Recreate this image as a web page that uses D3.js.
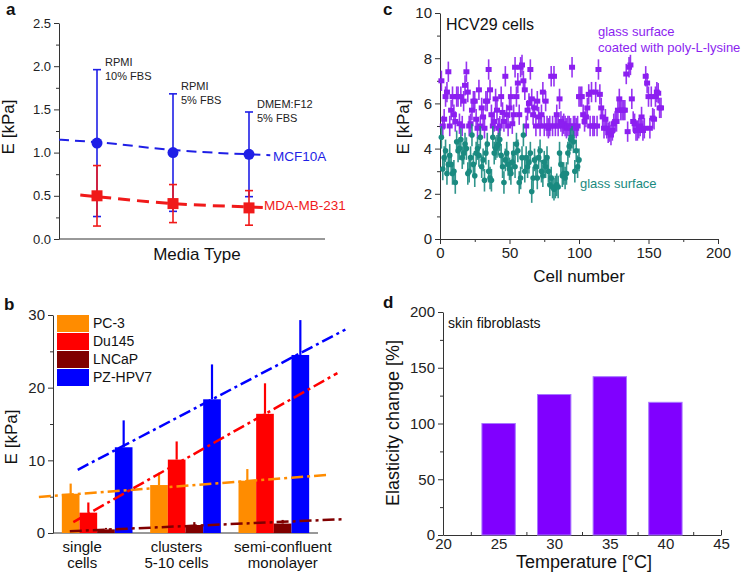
<!DOCTYPE html>
<html>
<head>
<meta charset="utf-8">
<script src="https://cdnjs.cloudflare.com/ajax/libs/d3/7.8.5/d3.min.js"></script>
<style>
  body { margin: 0; background: #fff; }
  svg { font-family: "Liberation Sans", Arial, sans-serif; }
  .axis path, .axis line { stroke: #333; }
  .axis text { fill: #222; }
</style>
</head>
<body>
<svg id="fig" width="742" height="588"></svg>
<script>
var FONT = '"Liberation Sans", Arial, sans-serif';

// ---- panel a : media type ----
var mediaPos = [0.5, 1.5, 2.5];
var mediaNotes = [["RPMI", "10% FBS"], ["RPMI", "5% FBS"], ["DMEM:F12", "5% FBS"]];
var mcfMean = [1.11, 1.00, 0.98];
var mcfHi = [1.96, 1.68, 1.47];
var mcfLo = [0.26, 0.32, 0.49];
var mdaMean = [0.50, 0.41, 0.36];
var mdaHi = [0.85, 0.63, 0.56];
var mdaLo = [0.15, 0.19, 0.16];
var mcfFitX = [0, 0.5, 1.5, 2.5, 2.78];
var mcfFitY = [1.15, 1.12, 1.03, 0.98, 0.97];
var mdaFitX = [0.28, 0.5, 1.5, 2.5, 2.78];
var mdaFitY = [0.51, 0.49, 0.41, 0.37, 0.36];

// ---- panel b : prostate cells ----
var bCats = ["single", "clusters", "semi"];
var bCatLines = [["single", "cells"], ["clusters", "5-10 cells"], ["semi-confluent", "monolayer"]];
var bSeries = ["PC-3", "Du145", "LNCaP", "PZ-HPV7"];
var bColors = ["#ff8c00", "#ff0000", "#800000", "#0000ff"];
var bMean = [
  [5.4, 6.6, 7.2],    // PC-3
  [2.8, 10.1, 16.4],  // Du145
  [0.5, 1.1, 1.3],    // LNCaP
  [11.8, 18.4, 24.5]  // PZ-HPV7
];
var bHi = [
  [6.8, 8.3, 8.8],
  [4.2, 12.6, 20.6],
  [0.7, 1.5, 1.8],
  [15.5, 23.2, 29.3]
];
var trendX0 = [-0.16, 0.23, 0.19, 0.28];
var trendY0 = [4.95, 1.5, 0.25, 8.7];
var trendX1 = [3.11, 3.22, 3.28, 3.31];
var trendY1 = [8.0, 22.0, 1.9, 28.0];

// ---- panel c : HCV29 cells ----
var polyE = [
  7.0, 5.0, 5.3, 6.3, 6.5, 7.4, 5.0, 5.7, 6.3, 5.5,
  5.2, 6.3, 6.3, 5.1, 6.3, 5.0, 6.1, 6.8, 7.4, 6.5,
  5.0, 5.1, 5.7, 6.1, 6.1, 5.3, 4.9, 6.6, 5.0, 5.8,
  5.4, 4.9, 6.1, 6.1, 7.5, 6.6, 5.5, 5.0, 5.2, 6.2,
  5.7, 4.9, 5.0, 6.3, 5.6, 5.2, 7.2, 5.5, 5.0, 5.8,
  6.3, 5.1, 5.5, 7.6, 6.3, 6.9, 5.5, 7.6, 7.7, 7.0,
  6.6, 5.0, 5.7, 6.0, 7.5, 6.2, 5.5, 5.8, 5.0, 6.1,
  5.4, 5.0, 5.5, 6.5, 5.0, 6.1, 5.0, 4.9, 5.0, 7.2,
  5.0, 7.2, 5.0, 5.5, 5.0, 6.2, 5.2, 5.0, 5.1, 5.0,
  4.9, 5.0, 5.0, 4.9, 7.6, 5.0, 5.0, 4.9, 5.0, 6.3,
  6.3, 6.3, 5.5, 5.2, 5.4, 5.8, 6.4, 5.0, 6.5, 5.0,
  5.0, 6.5, 5.0, 7.5, 6.4, 5.8, 5.4, 4.9, 5.3, 4.9,
  4.7, 4.75, 4.6, 4.8, 5.1, 5.2, 5.2, 5.7, 6.2, 5.7,
  5.7, 5.7, 5.7, 7.3, 4.75, 7.6, 7.7, 6.2, 5.2, 5.1,
  4.8, 4.8, 4.9, 5.0, 5.4, 4.8, 4.9, 7.2, 6.9, 6.3,
  4.9, 6.3, 5.35, 5.3, 6.3, 6.5, 6.45, 5.8, 5.8
];
var glassE = [
  4.5, 3.1, 3.6, 3.9, 2.9, 3.3, 3.7, 3.3, 2.9, 3.0,
  2.5, 4.3, 3.9, 4.0, 4.4, 3.6, 3.8, 4.2, 4.0, 2.9,
  3.0, 3.6, 4.6, 3.3, 2.8, 3.8, 4.0, 3.7, 4.5, 3.2,
  3.5, 2.6, 3.8, 4.2, 3.0, 2.7, 2.6, 4.5, 3.8, 4.0,
  4.1, 4.2, 4.4, 3.7, 3.2, 2.5, 3.5, 3.8, 3.3, 3.1,
  2.9, 3.4, 3.8, 3.2, 4.2, 3.9, 2.5, 2.7, 3.6, 4.6,
  3.0, 3.6, 3.2, 3.4, 3.8, 2.1, 2.7, 3.5, 3.2, 2.7,
  3.6, 3.9, 3.0, 2.8, 3.4, 3.2, 3.6, 3.0, 2.4, 2.7,
  2.3, 2.2, 2.3, 2.4, 2.3, 3.8, 3.3, 2.8, 2.9, 2.7,
  2.9, 3.8, 4.1, 4.4, 4.5, 4.3, 3.0, 3.9, 3.2, 3.5
];
var polyErr = 0.45;
var glassErr = 0.5;

// ---- panel d : skin fibroblasts ----
var temps = [25, 30, 35, 40];
var elastChange = [100, 126, 142, 119];

var svg = d3.select("#fig");
svg.append("rect").attr("width", 742).attr("height", 588).attr("fill", "#fff");

function leftAxis(x0, y, majors, minors, fmt, fs) {
  svg.append("g").attr("class", "axis").attr("transform", "translate(" + x0 + ",0)")
    .call(d3.axisLeft(y).tickValues(minors).tickSize(3).tickFormat(""))
    .select(".domain").remove();
  svg.append("g").attr("class", "axis").attr("transform", "translate(" + x0 + ",0)")
    .call(d3.axisLeft(y).tickValues(majors).tickSizeInner(5).tickSizeOuter(0).tickPadding(3).tickFormat(fmt))
    .attr("font-size", fs).attr("font-family", FONT);
}

function bottomAxis(y0, x, majors, minors, fs, inward) {
  var s = inward ? -5 : 5, sm = inward ? -3 : 3;
  svg.append("g").attr("class", "axis").attr("transform", "translate(0," + y0 + ")")
    .call(d3.axisBottom(x).tickValues(minors).tickSize(sm).tickFormat(""))
    .select(".domain").remove();
  svg.append("g").attr("class", "axis").attr("transform", "translate(0," + y0 + ")")
    .call(d3.axisBottom(x).tickValues(majors).tickSizeInner(s).tickSizeOuter(0).tickPadding(3).tickFormat(d3.format("d")))
    .attr("font-size", fs).attr("font-family", FONT);
}

function plainLine(x1, x2, y) {
  svg.append("line").attr("x1", x1).attr("x2", x2).attr("y1", y).attr("y2", y)
    .attr("stroke", "#333").attr("stroke-width", 1);
}

function label(x, y, txt, opts) {
  opts = opts || {};
  var t = svg.append("text").attr("x", x).attr("y", y).text(txt)
    .attr("font-size", opts.size || 13)
    .attr("fill", opts.color || "#111")
    .attr("text-anchor", opts.anchor || "start");
  if (opts.bold) t.attr("font-weight", "bold");
  if (opts.rotate) t.attr("transform", "rotate(-90," + x + "," + y + ")");
  return t;
}

function range(a, b, s) { return d3.range(a, b + s / 2, s); }

// ================= panel a =================
var xa = d3.scaleLinear().domain([0, 3.5]).range([59, 325]);
var ya = d3.scaleLinear().domain([0, 2.5]).range([239, 23]);
leftAxis(59, ya, range(0, 2.5, 0.5), range(0.25, 2.25, 0.5), d3.format(".1f"), 13);
plainLine(59, 325, 239);

var blueA = "#1f1fe6", redA = "#f01a1a";

function errBars(xs, lo, hi, color, cap) {
  xs.forEach(function (p, i) {
    var cx = xa(p);
    svg.append("line").attr("x1", cx).attr("x2", cx).attr("y1", ya(lo[i])).attr("y2", ya(hi[i]))
      .attr("stroke", color).attr("stroke-width", 1.6);
    [lo[i], hi[i]].forEach(function (v) {
      svg.append("line").attr("x1", cx - cap).attr("x2", cx + cap).attr("y1", ya(v)).attr("y2", ya(v))
        .attr("stroke", color).attr("stroke-width", 1.6);
    });
  });
}
errBars(mediaPos, mcfLo, mcfHi, blueA, 4);
errBars(mediaPos, mdaLo, mdaHi, redA, 4);

var lineA = d3.line().curve(d3.curveMonotoneX).x(function (d) { return xa(d[0]); }).y(function (d) { return ya(d[1]); });
svg.append("path").attr("d", lineA(d3.zip(mcfFitX, mcfFitY))).attr("fill", "none")
  .attr("stroke", blueA).attr("stroke-width", 2).attr("stroke-dasharray", "10,6");
svg.append("path").attr("d", lineA(d3.zip(mdaFitX, mdaFitY))).attr("fill", "none")
  .attr("stroke", redA).attr("stroke-width", 3).attr("stroke-dasharray", "12,7");

svg.selectAll(".mcf").data(mediaPos).enter().append("circle")
  .attr("cx", function (d) { return xa(d); })
  .attr("cy", function (d, i) { return ya(mcfMean[i]); })
  .attr("r", 5.5).attr("fill", blueA);
svg.selectAll(".mda").data(mediaPos).enter().append("rect")
  .attr("x", function (d) { return xa(d) - 5.5; })
  .attr("y", function (d, i) { return ya(mdaMean[i]) - 5.5; })
  .attr("width", 11).attr("height", 11).attr("fill", redA);

mediaNotes.forEach(function (n, i) {
  var x = xa(mediaPos[i]) + 8, y = ya(mcfHi[i]) - 4;
  label(x, y, n[0], { size: 11, color: "#222" });
  label(x, y + 14, n[1], { size: 11, color: "#222" });
});
label(273, 161, "MCF10A", { size: 13.5, color: blueA });
label(264, 210, "MDA-MB-231", { size: 13.5, color: redA });
label(197, 260, "Media Type", { size: 17, anchor: "middle" });
label(14, 127, "E [kPa]", { size: 17, anchor: "middle", rotate: true });
label(6, 15, "a", { size: 17, bold: true });

// ================= panel c =================
var xc = d3.scaleLinear().domain([0, 200]).range([440, 718]);
var yc = d3.scaleLinear().domain([0, 10]).range([239, 13]);
leftAxis(440, yc, range(0, 10, 2), range(1, 9, 2), d3.format("d"), 15);
bottomAxis(239, xc, range(0, 200, 50), range(25, 175, 50), 15, false);

var purple = "#8c1ff0", teal = "#1a8a80";

function scatter(vals, err, color, shape) {
  var g = svg.append("g");
  g.selectAll("line").data(vals).enter().append("line")
    .attr("x1", function (d, i) { return xc(i + 1); })
    .attr("x2", function (d, i) { return xc(i + 1); })
    .attr("y1", function (d) { return yc(d - err); })
    .attr("y2", function (d) { return yc(d + err); })
    .attr("stroke", color).attr("stroke-width", 1.6).attr("opacity", 0.9);
  if (shape == "square") {
    g.selectAll("rect").data(vals).enter().append("rect")
      .attr("x", function (d, i) { return xc(i + 1) - 3; })
      .attr("y", function (d) { return yc(d) - 2.5; })
      .attr("width", 6).attr("height", 5).attr("fill", color);
  } else {
    g.selectAll("circle").data(vals).enter().append("circle")
      .attr("cx", function (d, i) { return xc(i + 1); })
      .attr("cy", function (d) { return yc(d); })
      .attr("r", 2.8).attr("fill", color);
  }
}
scatter(polyE, polyErr, purple, "square");
scatter(glassE, glassErr, teal, "circle");

label(446, 30, "HCV29 cells", { size: 16 });
label(598, 36, "glass surface", { size: 13, color: purple });
label(598, 52, "coated with poly-L-lysine", { size: 13, color: purple });
label(580, 188, "glass surface", { size: 13, color: teal });
label(579, 282, "Cell number", { size: 17, anchor: "middle" });
label(409, 127, "E [kPa]", { size: 17, anchor: "middle", rotate: true });
label(383, 15, "c", { size: 17, bold: true });

// ================= panel b =================
var xb = d3.scaleBand().domain(bCats).range([53, 318]).paddingInner(0.2).paddingOuter(0.1);
var xbSub = d3.scaleBand().domain(bSeries).range([0, xb.bandwidth()]);
var xbLin = d3.scaleLinear().domain([0, 3]).range([53, 318]);
var yb = d3.scaleLinear().domain([0, 30]).range([533, 315]);
leftAxis(53, yb, range(0, 30, 10), range(5, 25, 10), d3.format("d"), 15);
plainLine(53, 318, 533);

bSeries.forEach(function (s, si) {
  bCats.forEach(function (c, ci) {
    var x = xb(c) + xbSub(s), w = xbSub.bandwidth();
    svg.append("line").attr("x1", x + w / 2).attr("x2", x + w / 2)
      .attr("y1", yb(bMean[si][ci])).attr("y2", yb(bHi[si][ci]))
      .attr("stroke", bColors[si]).attr("stroke-width", 2.2);
    svg.append("rect").attr("x", x).attr("y", yb(bMean[si][ci]))
      .attr("width", w).attr("height", yb(0) - yb(bMean[si][ci]))
      .attr("fill", bColors[si]);
  });
});

bSeries.forEach(function (s, si) {
  svg.append("line")
    .attr("x1", xbLin(trendX0[si])).attr("y1", yb(trendY0[si]))
    .attr("x2", xbLin(trendX1[si])).attr("y2", yb(trendY1[si]))
    .attr("stroke", bColors[si]).attr("stroke-width", 2.5)
    .attr("stroke-dasharray", "12,4,3,4");
});

var labOffset = [-15, -9, 9];
bCats.forEach(function (c, ci) {
  var cx = xb(c) + xb.bandwidth() / 2 + labOffset[ci];
  label(cx, 552, bCatLines[ci][0], { size: 15, anchor: "middle" });
  label(cx, 568, bCatLines[ci][1], { size: 15, anchor: "middle" });
});

var legB = svg.append("g").attr("transform", "translate(57,315)");
bSeries.forEach(function (s, si) {
  legB.append("rect").attr("x", 0).attr("y", si * 18).attr("width", 32).attr("height", 17)
    .attr("fill", bColors[si]);
  legB.append("text").attr("x", 36).attr("y", si * 18 + 13).attr("font-size", 14)
    .attr("fill", "#111").text(s);
});

label(17, 437, "E [kPa]", { size: 17, anchor: "middle", rotate: true });
label(4, 310, "b", { size: 17, bold: true });

// ================= panel d =================
var xd = d3.scaleLinear().domain([20, 45]).range([443, 721]);
var yd = d3.scaleLinear().domain([0, 200]).range([535, 312]);
leftAxis(443, yd, range(0, 200, 50), range(25, 175, 50), d3.format("d"), 15);
bottomAxis(535, xd, range(20, 45, 5), range(22.5, 42.5, 5), 15, true);

svg.selectAll(".barD").data(temps).enter().append("rect")
  .attr("x", function (d) { return xd(d - 1.5); })
  .attr("width", function (d) { return xd(d + 1.5) - xd(d - 1.5); })
  .attr("y", function (d, i) { return yd(elastChange[i]); })
  .attr("height", function (d, i) { return yd(0) - yd(elastChange[i]); })
  .attr("fill", "#8000ff").attr("stroke", "#a877ff").attr("stroke-width", 1);

label(448, 328, "skin fibroblasts", { size: 14 });
label(584, 568, "Temperature [\u00b0C]", { size: 18, anchor: "middle" });
label(399, 423, "Elasticity change [%]", { size: 18, anchor: "middle", rotate: true });
label(383, 308, "d", { size: 17, bold: true });
</script>
</body>
</html>
